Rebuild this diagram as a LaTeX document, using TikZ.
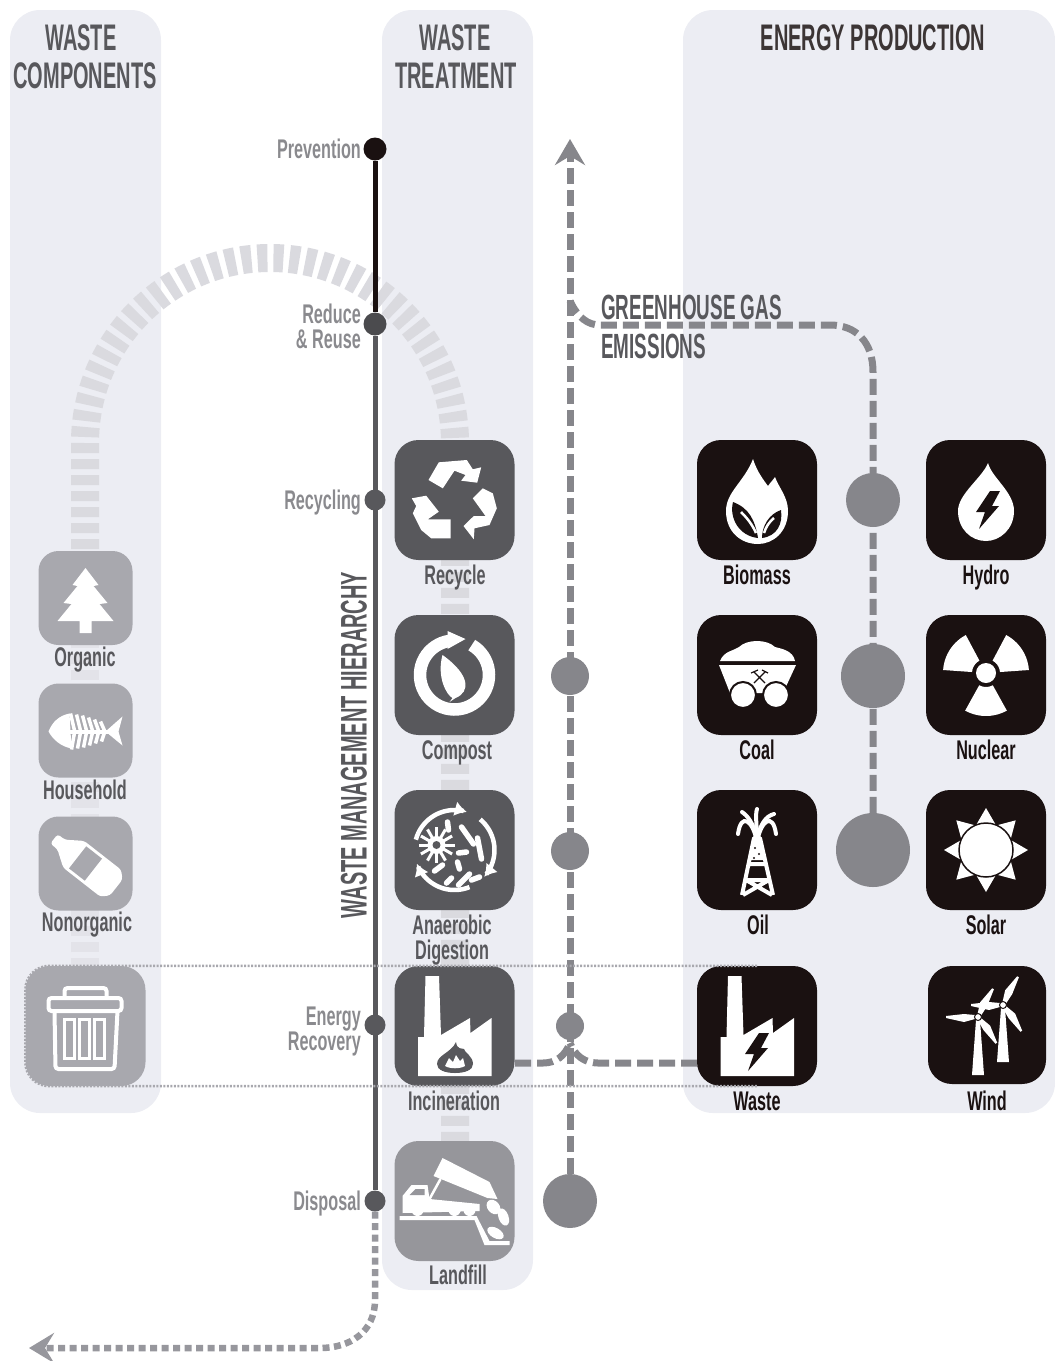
\documentclass[tikz,border=0pt]{standalone}
\usepackage{fontspec}
\usetikzlibrary{arrows.meta}
\newfontfamily\labelfont[FakeStretch=0.6]{Liberation Sans}
\newfontfamily\headfont[FakeStretch=0.54]{Liberation Sans}
\definecolor{panelc}{HTML}{ECEDF3}
\definecolor{arcc}{HTML}{DADADF}
\definecolor{coalc}{HTML}{1A1111}
\definecolor{darkc}{HTML}{58585C}
\definecolor{landc}{HTML}{96969B}
\definecolor{softc}{HTML}{A8A8AE}
\definecolor{gasc}{HTML}{86868B}
\definecolor{hierc}{HTML}{8A8A8E}
\pgfdeclarelayer{back}
\pgfdeclarelayer{mid}
\pgfsetlayers{back,mid,main}
\tikzset{
  panel/.style={fill=panelc,rounded corners=30pt},
  wbox/.style={minimum size=120pt,inner sep=0pt,rounded corners=24pt,fill=#1},
  sbox/.style={minimum size=94pt,inner sep=0pt,rounded corners=20pt,fill=softc},
  lab/.style={inner sep=0pt,text=#1,text height=22pt,text depth=3pt,font=\labelfont\bfseries\fontsize{27}{25}\selectfont},
  lab/.default=darkc,
  hlab/.style={lab=hierc,anchor=east},
  head/.style={inner sep=0pt,text=#1,text height=27pt,text depth=0pt,font=\headfont\bfseries\fontsize{37}{38}\selectfont},
  head/.default=darkc,
  hdot/.style={circle,inner sep=0pt,minimum size=#1,fill=darkc},
  gdot/.style={circle,inner sep=0pt,minimum size=#1,fill=gasc},
  gasline/.style={gasc,line width=7pt,dash pattern=on 16pt off 6pt},
  softline/.style={softc,line width=2.5pt,dash pattern=on 2pt off 1.5pt},
  arcline/.style={arcc,line width=28pt,dash pattern=on 10pt off 6pt},
  pics/tree/.style={code={
    \fill[white] (0,-30)--(13,-13)--(8,-12)--(22,5)--(14,6)--(28,23)--(6,23)--(6,35)--(-6,35)--(-6,23)--(-28,23)--(-14,6)--(-22,5)--(-8,-12)--(-13,-13)--cycle;
  }},
  pics/fish/.style={code={
    \fill[white] (-37,1) .. controls (-33,-9) and (-26,-15) .. (-16,-17) -- (-14,18) .. controls (-24,16) and (-32,10) .. (-37,1);
    \foreach \a/\b in {-11/17,-5/16,1/15,7/13,13/11,19/9}{
      \draw[white,line width=3.5pt] (\a,0)--(\a-4,-\b);
      \draw[white,line width=3.5pt] (\a,2)--(\a-3,\b+2);
    }
    \draw[white,line width=4pt] (-16,1)--(24,1);
    \fill[white] (20,1)--(37,-14)--(33,1)--(37,15)--cycle;
  }},
  pics/bottle/.style={code={
    \begin{scope}[rotate=-38]
      \fill[white,rounded corners=3pt] (-40,-6)--(-31,-6)--(-15,-17)--(32,-17)--(39,-10)--(39,10)--(32,17)--(-15,17)--(-31,6)--(-40,6)--cycle;
      \fill[softc] (-10,-14) rectangle (10,14);
    \end{scope}
  }},
  pics/bin/.style={code={
    \draw[white,line width=4pt,rounded corners=3pt] (-37,-28) rectangle (36,-15);
    \draw[white,line width=4pt,rounded corners=3pt] (-21,-28)--(-21,-38)--(21,-38)--(21,-28);
    \draw[white,line width=4pt,rounded corners=3pt] (-31,-15)--(-30,43)--(29,43)--(32,-15);
    \foreach \a in {-21,-6,9}{\draw[white,line width=3pt] (\a,-7) rectangle (\a+10,32);}
  }},
  pics/recyc/.style={code={
    \fill[white] (-26,-20)--(-15.7,-37.7)--(12.3,-40)--(18.3,-30.7)--(26.7,-32.7)--(22.7,-17.3)--(6.7,-19.3)--(11,-25)--(0,-29.3)--(-11.7,-11.7)--cycle;
    \fill[white] (-4,19.3)--(-26.7,19.3)--(-15.7,11.7)--(-28.3,-4.3)--(-42.7,-1.7)--(-38.3,6)--(-41.7,13.3)--(-33.3,30)--(-23.3,38.3)--(-4,38.3)--cycle;
    \fill[white] (18.3,-1.7)--(31,16)--(19.3,16)--(9,26)--(19.3,39.3)--(20,28.3)--(35,25)--(42.3,8.3)--(38.3,-6.7)--(28.3,-11.7)--cycle;
  }},
  pics/compost/.style={code={
    \draw[white,line width=12.5pt,domain=-60:262,samples=50] plot ({34.5*cos(\x)},{34.5*sin(\x)});
    \fill[white] (11,-36)--(-7,-44)--(-7,-26)--cycle;
    \fill[white] (-12,-20) .. controls (-18,2) and (-8,20) .. (-2,23) -- (-5,27) -- (1,23) .. controls (16,17) and (16,0) .. (-12,-20);
  }},
  pics/germs/.style={code={
    \foreach \s/\e in {-165/-72,-50/42,68/160}{
      \draw[white,line width=4.5pt,-{Latex[length=12pt,width=15pt]},domain=\s:\e,samples=20] plot ({40*cos(\x)},{40*sin(\x)});
    }
    \foreach \r in {0,30,...,330}{\draw[white,line width=3pt,shift={(-18,-5)},rotate=\r] (0,0)--(18,0);}
    \fill[white] (-18,-5) circle (9pt);
    \fill[darkc] (-18,-5) circle (4pt);
    \foreach \a/\b/\c/\d in {-7/-28/-6/-20,7/-23/19/-6,23/-12/27/9,4/3/12/2,3/12/5/19,-20/21/-12/15,-8/33/-3/28,4/35/15/24,17/30/25/27}{
      \draw[white,line width=5.5pt,line cap=round] (\a,\b)--(\c,\d);
    }
  }},
  pics/factory/.style={code={
    \fill[white] (-29,-50)--(-15.5,-50)--(-13.5,9)--(15.5,-8)--(16,7)--(37,-8)--(37,50)--(-36.5,50)--(-36.5,11)--(-30.5,11)--cycle;
  }},
  pics/flame/.style={code={
    \fill[darkc] (1,-16) .. controls (2,-8) and (7,-10) .. (9,-9) .. controls (9,-6) and (18,-2) .. (18,6) .. controls (18,12) and (10,15) .. (0,15) .. controls (-10,15) and (-18,12) .. (-18,6) .. controls (-18,-3) and (-4,-5) .. (1,-16);
    \fill[white] (-10,8) -- (-6,0) -- (-2,4) -- (1,-3) -- (5,3) -- (8,0) -- (10,8) .. controls (5,11) and (-5,11) .. (-10,8);
  }},
  pics/bolt/.style={code={
    \fill[coalc] (2,-19)--(12,-19)--(4,-4)--(11,-4)--(-9,19)--(-3,2)--(-12,2)--cycle;
  }},
  pics/truck/.style={code={
    \fill[white] (-55,15)--(22,15)--(35,40)--(55,40)--(55,44)--(30,44)--(20,19)--(-55,19)--cycle;
    \fill[white] (-52,5)--(-52,-5)--(-43,-16)--(-27,-16)--(-25,-2)--(25,3)--(25,10)--(-52,12)--cycle;
    \fill[landc] (-39,-12)--(-30,-12)--(-30,-6)--(-45,-6)--cycle;
    \fill[white] (-21,-25)--(-12,-43)--(35,-19)--(43,-2)--(33,-3)--cycle;
    \draw[white,line width=2.5pt] (-25,-2)--(-14,-22);
    \foreach \a in {-37,0,15}{\fill[white] (\a,9) circle (6pt);}
    \fill[white,rotate around={40:(39,6)}] (39,6) ellipse (6pt and 8pt);
    \fill[white,rotate around={20:(49,16)}] (49,16) ellipse (5pt and 9pt);
    \fill[white,rotate around={-30:(41,32)}] (41,32) ellipse (9pt and 5pt);
  }},
  pics/biomass/.style={code={
    \fill[white] (-4,-41) .. controls (0,-28) and (8,-18) .. (11,-14) .. controls (13,-17) and (16,-20) .. (18,-23) .. controls (22,-12) and (31,-3) .. (31,11) .. controls (31,32) and (16,44) .. (1,44) .. controls (-16,44) and (-31,32) .. (-31,11) .. controls (-31,-8) and (-13,-18) .. (-4,-41);
    \fill[coalc] (1,38) .. controls (-2,20) and (-8,8) .. (-24,2) .. controls (-28,18) and (-18,36) .. (1,38);
    \fill[coalc] (5,38) .. controls (5,26) and (12,14) .. (24,10) .. controls (26,24) and (20,36) .. (5,38);
    \draw[white,line width=2.5pt] (-16,12) .. controls (-10,18) and (-5,24) .. (-1,33);
    \draw[white,line width=2.5pt] (17,18) .. controls (12,22) and (9,27) .. (7,33);
  }},
  pics/drop/.style={code={
    \fill[white] (2,-37) .. controls (6,-22) and (28,-8) .. (28,11) .. controls (28,29) and (14,41) .. (0,41) .. controls (-15,41) and (-28,29) .. (-28,11) .. controls (-28,-6) and (-4,-22) .. (2,-37);
  }},
  pics/cart/.style={code={
    \fill[white] (-37,-14) .. controls (-33,-24) and (-24,-24) .. (-18,-28) .. controls (-10,-36) and (10,-36) .. (18,-28) .. controls (26,-26) and (36,-24) .. (38,-14)--cycle;
    \fill[white] (-38,-10)--(39,-10)--(26,18)--(-27,18)--cycle;
    \fill[white,draw=coalc,line width=2pt] (-14,20) circle (13pt);
    \fill[white,draw=coalc,line width=2pt] (19,20) circle (13pt);
    \draw[coalc,line width=1.2pt] (-3,-3)--(8,8) (8,-3)--(-3,8) (-6,-2)--(1,-5) (5,-5)--(11,-2);
  }},
  pics/atom/.style={code={
    \begin{scope}[shift={(0,-2)}]
    \foreach \c in {-147,-33,90}{
      \fill[white] plot[domain=\c-29:\c+29,samples=14] ({43*cos(\x)},{43*sin(\x)}) -- plot[domain=\c+29:\c-29,samples=6] ({14*cos(\x)},{14*sin(\x)}) -- cycle;
    }
    \fill[coalc] (0,0) circle (13pt);
    \fill[white] (0,0) circle (10pt);
    \end{scope}
  }},
  pics/sun/.style={code={
    \foreach \c in {0,45,...,315}{
      \fill[white] ({42*cos(\c)},{42*sin(\c)}) -- ({26*cos(\c-24)},{26*sin(\c-24)}) -- ({26*cos(\c+24)},{26*sin(\c+24)}) -- cycle;
    }
    \fill[white,draw=coalc,line width=1.5pt] (0,0) circle (27pt);
  }},
  pics/rig/.style={code={
    \draw[white,line width=4pt,line join=round] (-15,45)--(-3,-12)--(3,-12)--(16,45) (-12,30)--(13,30) (-14,45)--(12,30) (15,45)--(-11,30) (-9,14)--(9,14);
    \fill[white] (-3,-12)--(3,-12)--(7,10)--(-7,10)--cycle;
    \fill[coalc] (-2,-2) circle (1.2pt) (2,4) circle (1.2pt) (-3,8) circle (1.2pt);
    \draw[white,line width=4pt,line cap=round] (0,-8) .. controls (-4,-30) and (-16,-38) .. (-19,-16);
    \draw[white,line width=4pt,line cap=round] (0,-8) .. controls (4,-30) and (16,-38) .. (19,-16);
    \draw[white,line width=4pt,line cap=round] (0,-10) .. controls (-3,-26) and (-9,-34) .. (-15,-38);
    \draw[white,line width=4pt,line cap=round] (0,-10) .. controls (3,-26) and (9,-34) .. (17,-36);
    \draw[white,line width=4pt,line cap=round] (0,-10) .. controls (0,-25) and (-2,-35) .. (0,-41);
  }},
  pics/turbine/.style={code={
    \fill[white] (-2,3)--(2,3)--(6,#1)--(-6,#1)--cycle;
    \foreach \r in {62,-55,180}{
      \fill[white,rotate=\r] (3,-2)--(14,-5)--(32,-1)--(32,1)--(14,3)--(3,2)--cycle;
    }
    \fill[white,draw=coalc,line width=1pt] (0,0) circle (3.5pt);
  }},
}
\begin{document}
\begin{tikzpicture}[x=1pt,y=-1pt,>=Latex]
  \useasboundingbox (0,0) rectangle (1055,1361);
  \begin{pgfonlayer}{back}
    \fill[panel] (10,10) rectangle (161,1113);
    \fill[panel] (382,10) rectangle (533,1290);
    \fill[panel] (683,10) rectangle (1055,1113);
    \draw[arcline] (85,645)--(85,443) .. controls (85,341) and (168,258) .. (270,258) .. controls (372,258) and (455,341) .. (455,443)--(455,1141);
    \draw[arcline,arcc!50!panelc] (85,1000)--(85,645);
  \end{pgfonlayer}

  \node[head] (wcomp) at (81,37) {WASTE};
  \node[head] (wcomb) at (85,75) {COMPONENTS};
  \node[head] (wtreat) at (455,37) {WASTE};
  \node[head] (wtreb) at (456,75) {TREATMENT};
  \node[head=coalc!85] (eprod) at (873,37) {ENERGY PRODUCTION};
  \node[head,anchor=west,font=\headfont\bfseries\fontsize{35}{38}\selectfont] (ghg) at (601,306) {GREENHOUSE GAS};
  \node[head,anchor=west,font=\headfont\bfseries\fontsize{35}{38}\selectfont] (emis) at (601,345) {EMISSIONS};
  \node[head,rotate=90] (wmh) at (353,745) {WASTE MANAGEMENT HIERARCHY};

  \node[hdot=23pt,fill=coalc] (hprev) at (375,149) {};
  \node[hdot=23pt,fill=darkc!85!black] (hredu) at (375,324) {};
  \node[hdot=21pt] (hrecy) at (375,500) {};
  \node[hdot=21pt] (henrg) at (375,1025) {};
  \node[hdot=21pt] (hdisp) at (375,1201) {};
  \coordinate (arrw) at (29,1348);
  \begin{pgfonlayer}{mid}
    \draw[coalc,line width=5pt] (hprev)--(hredu);
    \draw[darkc,line width=5pt] (hredu)--(hdisp);
    \draw[softc!90!black,line width=6.5pt,dash pattern=on 7pt off 4.5pt,-{Stealth[length=25pt,width=30pt,inset=9pt]}] (hdisp)--(375,1300) .. controls (375,1332) and (350,1348) .. (320,1348)--(arrw);
  \end{pgfonlayer}

  \node[hlab] (lprev) at (361,149) {Prevention};
  \node[hlab] (lredu) at (361,314) {Reduce};
  \node[hlab] (lreus) at (361,339) {\& Reuse};
  \node[hlab] (lrecy) at (361,500) {Recycling};
  \node[hlab] (lenrg) at (361,1016) {Energy};
  \node[hlab] (lreco) at (361,1041) {Recovery};
  \node[hlab] (ldisp) at (361,1201) {Disposal};

  \node[wbox=darkc] (recycle) at (454.5,500) {};
  \node[wbox=darkc] (compost) at (454.5,675) {};
  \node[wbox=darkc] (anaer) at (454.5,850) {};
  \node[wbox=darkc] (incin) at (454.5,1026) {};
  \node[wbox=landc] (landf) at (454.5,1201) {};
  \node[wbox=coalc] (biomass) at (757,500) {};
  \node[wbox=coalc] (coal) at (757,675) {};
  \node[wbox=coalc] (oil) at (757,850) {};
  \node[wbox=coalc] (waste) at (757,1026) {};
  \node[wbox=coalc] (hydro) at (986,500) {};
  \node[wbox=coalc] (nuclear) at (986,675) {};
  \node[wbox=coalc] (solar) at (986,850) {};
  \node[wbox=coalc,minimum size=118pt] (wind) at (987,1025) {};
  \node[sbox] (organic) at (85.5,598) {};
  \node[sbox] (house) at (85.5,730.5) {};
  \node[sbox] (nonorg) at (85.5,863.5) {};
  \node[wbox=softc] (bin) at (85.5,1026) {};
  \draw[softline,rounded corners=24pt] (waste.north)--(bin.north west)--(bin.south west)--(waste.south);

  \node[gdot=38pt] (gcomp) at (570,676) {};
  \node[gdot=38pt] (ganae) at (570,851) {};
  \node[gdot=28pt] (ginci) at (570,1026) {};
  \node[gdot=54pt] (gland) at (570,1201) {};
  \node[gdot=54pt] (gbio) at (873,500) {};
  \node[gdot=64pt] (gcoal) at (873,676) {};
  \node[gdot=74pt] (goil) at (873,850) {};
  \coordinate (gtop) at (570,139);
  \coordinate (gjoin) at (570,1043);
  \coordinate (gjoin2) at (570,301);
  \coordinate (incout) at (515,1063);
  \coordinate (wasout) at (697,1063);
  \begin{pgfonlayer}{mid}
    \draw[gasline,-{Stealth[length=26pt,width=30pt,inset=9pt]}] (gland)--(gtop);
    \draw[gasline] (incout)--(543,1063) .. controls (556,1063) and (565,1056) .. (gjoin);
    \draw[gasline] (wasout)--(598,1063) .. controls (585,1063) and (575,1056) .. (gjoin);
    \draw[gasline] (goil)--(873,372) .. controls (873,342) and (856,325) .. (830,325)--(600,325) .. controls (588,325) and (578,318) .. (gjoin2);
  \end{pgfonlayer}

  \pic at (organic) {tree};
  \pic at (house) {fish};
  \pic at (nonorg) {bottle};
  \pic at (bin) {bin};
  \pic at (recycle) {recyc};
  \pic at (compost) {compost};
  \pic at (anaer) {germs};
  \pic at (incin) {factory};
  \pic at (455,1058) {flame};
  \pic at (landf) {truck};
  \pic at (biomass) {biomass};
  \pic at (coal) {cart};
  \pic at (oil) {rig};
  \pic at (waste) {factory};
  \pic at (757,1052) {bolt};
  \pic at (hydro) {drop};
  \pic at (988,510) {bolt};
  \pic at (nuclear) {atom};
  \pic at (solar) {sun};
  \pic at (978,1017) {turbine=58};
  \pic at (1003,1005) {turbine=57};

  \node[lab] (torg) at (85,657) {Organic};
  \node[lab] (thou) at (85,790) {Household};
  \node[lab] (tnon) at (87,922) {Nonorganic};
  \node[lab] (trec) at (455,575) {Recycle};
  \node[lab] (tcom) at (457,750) {Compost};
  \node[lab] (tana) at (452,925) {Anaerobic};
  \node[lab] (tdig) at (452,950) {Digestion};
  \node[lab] (tinc) at (454,1101) {Incineration};
  \node[lab] (tlan) at (458,1275) {Landfill};
  \node[lab=coalc] (tbio) at (757,575) {Biomass};
  \node[lab=coalc] (thyd) at (986,575) {Hydro};
  \node[lab=coalc] (tcoa) at (757,750) {Coal};
  \node[lab=coalc] (tnuc) at (986,750) {Nuclear};
  \node[lab=coalc] (toil) at (758,925) {Oil};
  \node[lab=coalc] (tsol) at (986,925) {Solar};
  \node[lab=coalc] (twas) at (757,1101) {Waste};
  \node[lab=coalc] (twin) at (987,1101) {Wind};
\end{tikzpicture}
\end{document}
